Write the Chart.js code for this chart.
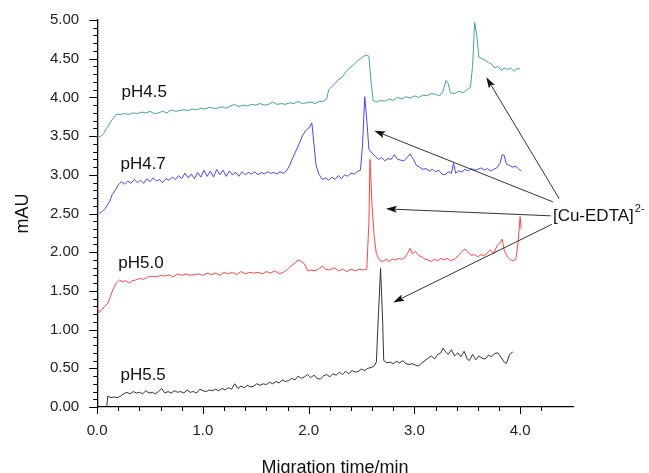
<!DOCTYPE html>
<html>
<head>
<meta charset="utf-8">
<title>Cu-EDTA electropherograms</title>
<script src="https://cdn.jsdelivr.net/npm/chart.js"></script>
<style>
  html, body { margin: 0; padding: 0; background: #fff; }
  #wrap { width: 649px; height: 473px; }
</style>
</head>
<body>
<div id="wrap"><canvas id="chartCanvas" width="649" height="473"></canvas></div>
<script>
// traces: [time (min), signal (mAU)]
const pH45 = [[0.00,3.50],[0.03,3.49],[0.06,3.53],[0.09,3.60],[0.12,3.67],[0.15,3.73],[0.18,3.78],[0.22,3.78],[0.26,3.79],[0.30,3.78],[0.34,3.80],[0.38,3.79],[0.42,3.81],[0.46,3.80],[0.50,3.82],[0.54,3.79],[0.58,3.80],[0.62,3.82],[0.66,3.80],[0.70,3.84],[0.74,3.82],[0.78,3.83],[0.82,3.84],[0.86,3.83],[0.90,3.85],[0.94,3.84],[0.98,3.86],[1.02,3.85],[1.06,3.87],[1.10,3.86],[1.14,3.86],[1.18,3.88],[1.22,3.86],[1.26,3.89],[1.30,3.91],[1.34,3.88],[1.38,3.90],[1.42,3.89],[1.46,3.91],[1.50,3.90],[1.54,3.92],[1.58,3.90],[1.62,3.91],[1.66,3.94],[1.70,3.91],[1.74,3.92],[1.78,3.91],[1.82,3.93],[1.86,3.92],[1.90,3.95],[1.94,3.92],[1.98,3.93],[2.02,3.94],[2.06,3.92],[2.10,3.95],[2.14,3.95],[2.17,3.98],[2.19,4.10],[2.22,4.14],[2.25,4.18],[2.28,4.23],[2.31,4.25],[2.34,4.31],[2.37,4.36],[2.40,4.39],[2.43,4.43],[2.46,4.47],[2.49,4.50],[2.52,4.53],[2.55,4.55],[2.57,4.53],[2.59,4.20],[2.61,3.96],[2.64,3.94],[2.68,3.96],[2.72,3.95],[2.76,3.98],[2.80,3.96],[2.84,4.00],[2.88,3.98],[2.92,4.01],[2.96,3.99],[3.00,4.02],[3.04,4.00],[3.08,4.03],[3.12,4.02],[3.16,4.05],[3.20,4.04],[3.24,4.02],[3.27,4.08],[3.30,4.22],[3.32,4.18],[3.34,4.06],[3.38,4.05],[3.42,4.08],[3.46,4.06],[3.50,4.10],[3.53,4.13],[3.55,4.40],[3.57,4.97],[3.59,4.80],[3.61,4.52],[3.64,4.50],[3.67,4.48],[3.70,4.45],[3.73,4.43],[3.76,4.38],[3.79,4.40],[3.82,4.35],[3.85,4.38],[3.88,4.36],[3.91,4.38],[3.94,4.34],[3.97,4.37],[4.00,4.37]];
const pH47 = [[0.02,2.50],[0.05,2.53],[0.08,2.57],[0.10,2.62],[0.12,2.66],[0.14,2.74],[0.17,2.80],[0.20,2.87],[0.23,2.91],[0.26,2.88],[0.29,2.92],[0.32,2.89],[0.35,2.94],[0.38,2.90],[0.41,2.93],[0.44,2.89],[0.47,2.95],[0.50,2.91],[0.53,2.96],[0.56,2.92],[0.59,2.94],[0.62,2.90],[0.65,2.95],[0.68,2.93],[0.71,2.97],[0.74,2.94],[0.77,2.99],[0.80,2.95],[0.83,3.02],[0.86,2.96],[0.89,3.01],[0.92,2.95],[0.95,3.03],[0.98,2.97],[1.01,3.06],[1.04,2.98],[1.07,3.05],[1.10,2.97],[1.13,3.07],[1.16,3.00],[1.19,3.06],[1.22,2.98],[1.25,3.05],[1.28,3.00],[1.31,3.03],[1.34,2.98],[1.37,3.04],[1.40,3.00],[1.43,3.03],[1.46,3.01],[1.49,3.04],[1.52,3.00],[1.55,3.03],[1.58,3.01],[1.61,3.04],[1.64,3.02],[1.67,3.03],[1.70,3.01],[1.73,3.04],[1.76,3.02],[1.79,3.05],[1.82,3.12],[1.85,3.22],[1.88,3.31],[1.91,3.40],[1.94,3.50],[1.97,3.57],[2.00,3.60],[2.03,3.67],[2.05,3.40],[2.07,3.12],[2.10,3.00],[2.13,2.94],[2.16,2.96],[2.19,2.93],[2.22,2.97],[2.25,2.94],[2.28,2.99],[2.31,2.95],[2.34,3.00],[2.37,2.98],[2.40,3.02],[2.43,3.01],[2.46,3.04],[2.49,3.06],[2.51,3.40],[2.53,4.01],[2.55,3.70],[2.57,3.33],[2.60,3.28],[2.63,3.24],[2.66,3.20],[2.69,3.22],[2.72,3.18],[2.75,3.21],[2.78,3.20],[2.81,3.26],[2.84,3.20],[2.87,3.19],[2.90,3.18],[2.93,3.22],[2.96,3.27],[2.99,3.20],[3.02,3.12],[3.05,3.10],[3.08,3.07],[3.11,3.08],[3.14,3.05],[3.17,3.07],[3.20,3.04],[3.23,3.06],[3.26,3.01],[3.29,3.00],[3.32,3.04],[3.35,3.02],[3.37,3.15],[3.39,3.02],[3.42,3.05],[3.45,3.04],[3.48,3.07],[3.51,3.05],[3.54,3.08],[3.57,3.06],[3.60,3.07],[3.63,3.09],[3.66,3.06],[3.69,3.08],[3.72,3.05],[3.75,3.07],[3.78,3.09],[3.81,3.15],[3.83,3.26],[3.85,3.25],[3.87,3.14],[3.90,3.12],[3.93,3.10],[3.96,3.11],[3.99,3.07],[4.01,3.05]];
const pH50 = [[0.00,1.28],[0.02,1.22],[0.04,1.25],[0.07,1.30],[0.10,1.34],[0.12,1.41],[0.15,1.52],[0.18,1.60],[0.21,1.64],[0.24,1.62],[0.27,1.63],[0.30,1.60],[0.33,1.63],[0.36,1.64],[0.40,1.66],[0.44,1.65],[0.48,1.68],[0.52,1.69],[0.56,1.68],[0.60,1.70],[0.64,1.69],[0.68,1.71],[0.72,1.68],[0.76,1.72],[0.80,1.70],[0.84,1.72],[0.88,1.70],[0.92,1.71],[0.96,1.72],[1.00,1.70],[1.04,1.73],[1.08,1.71],[1.12,1.73],[1.16,1.70],[1.20,1.74],[1.24,1.72],[1.28,1.74],[1.32,1.71],[1.36,1.75],[1.40,1.72],[1.44,1.74],[1.48,1.73],[1.52,1.74],[1.56,1.72],[1.60,1.75],[1.64,1.73],[1.68,1.76],[1.72,1.72],[1.76,1.74],[1.80,1.78],[1.84,1.83],[1.87,1.86],[1.90,1.90],[1.93,1.88],[1.96,1.85],[1.99,1.76],[2.02,1.77],[2.06,1.76],[2.10,1.79],[2.13,1.82],[2.16,1.78],[2.20,1.77],[2.24,1.80],[2.28,1.76],[2.32,1.78],[2.36,1.75],[2.40,1.78],[2.44,1.76],[2.48,1.78],[2.52,1.77],[2.55,1.78],[2.57,2.40],[2.58,3.20],[2.60,2.60],[2.62,2.20],[2.64,1.98],[2.67,1.90],[2.70,1.88],[2.73,1.91],[2.76,1.88],[2.79,1.91],[2.82,1.90],[2.85,1.92],[2.88,1.91],[2.91,1.93],[2.94,2.00],[2.96,2.05],[2.98,1.98],[3.01,2.01],[3.04,1.96],[3.07,1.94],[3.10,1.91],[3.13,1.90],[3.16,1.88],[3.19,1.91],[3.22,1.89],[3.25,1.92],[3.28,1.90],[3.31,1.92],[3.34,1.89],[3.38,1.91],[3.42,1.96],[3.45,2.01],[3.48,2.04],[3.51,1.99],[3.54,1.96],[3.57,1.97],[3.60,1.94],[3.63,1.97],[3.66,1.95],[3.69,1.99],[3.72,2.03],[3.75,1.98],[3.78,2.08],[3.81,2.12],[3.83,2.17],[3.85,2.02],[3.88,1.94],[3.91,1.90],[3.94,1.89],[3.96,1.91],[3.98,2.12],[4.00,2.46],[4.01,2.30]];
const pH55 = [[0.09,0.00],[0.10,0.14],[0.13,0.12],[0.16,0.13],[0.19,0.12],[0.22,0.14],[0.25,0.17],[0.28,0.19],[0.31,0.17],[0.34,0.20],[0.37,0.18],[0.40,0.19],[0.43,0.17],[0.46,0.21],[0.49,0.18],[0.52,0.19],[0.55,0.17],[0.58,0.20],[0.61,0.24],[0.64,0.18],[0.67,0.20],[0.70,0.18],[0.73,0.21],[0.76,0.19],[0.79,0.20],[0.82,0.18],[0.85,0.22],[0.88,0.19],[0.91,0.20],[0.94,0.18],[0.97,0.23],[1.00,0.21],[1.03,0.20],[1.06,0.22],[1.09,0.21],[1.12,0.23],[1.15,0.21],[1.18,0.24],[1.21,0.22],[1.24,0.25],[1.27,0.23],[1.30,0.30],[1.33,0.24],[1.36,0.27],[1.39,0.25],[1.42,0.28],[1.45,0.26],[1.48,0.27],[1.51,0.30],[1.54,0.28],[1.57,0.30],[1.60,0.29],[1.63,0.32],[1.66,0.30],[1.69,0.33],[1.72,0.31],[1.75,0.35],[1.78,0.33],[1.81,0.34],[1.84,0.37],[1.87,0.35],[1.90,0.40],[1.93,0.37],[1.96,0.39],[1.99,0.42],[2.02,0.38],[2.05,0.41],[2.08,0.37],[2.11,0.36],[2.14,0.40],[2.17,0.42],[2.20,0.39],[2.23,0.43],[2.26,0.41],[2.29,0.45],[2.32,0.42],[2.35,0.46],[2.38,0.43],[2.41,0.47],[2.44,0.45],[2.47,0.46],[2.50,0.49],[2.53,0.47],[2.56,0.50],[2.59,0.51],[2.62,0.53],[2.64,0.58],[2.66,1.20],[2.68,1.79],[2.70,1.10],[2.71,0.60],[2.74,0.57],[2.77,0.58],[2.80,0.56],[2.83,0.59],[2.86,0.57],[2.89,0.60],[2.92,0.56],[2.95,0.55],[2.98,0.56],[3.01,0.54],[3.04,0.53],[3.07,0.57],[3.10,0.60],[3.13,0.63],[3.16,0.66],[3.19,0.62],[3.22,0.68],[3.25,0.70],[3.27,0.76],[3.29,0.72],[3.32,0.68],[3.35,0.74],[3.38,0.66],[3.41,0.70],[3.44,0.65],[3.47,0.72],[3.50,0.62],[3.52,0.60],[3.55,0.68],[3.58,0.61],[3.61,0.66],[3.64,0.63],[3.67,0.62],[3.70,0.67],[3.73,0.65],[3.76,0.69],[3.79,0.70],[3.82,0.64],[3.85,0.58],[3.87,0.56],[3.90,0.68],[3.93,0.71]];

const seriesNames = ['pH4.5', 'pH4.7', 'pH5.0', 'pH5.5'];
const seriesColors = ['#45a39b', '#4646ff', '#ff4646', '#333333'];
// where each trace name sits (left edge time, baseline mAU)
const nameSpots = [[0.23, 4.00], [0.22, 3.07], [0.20, 1.79], [0.22, 0.35]];

const xTickLabels = ['0.0', '1.0', '2.0', '3.0', '4.0'];
const yTickLabels = ['0.00', '0.50', '1.00', '1.50', '2.00', '2.50', '3.00', '3.50', '4.00', '4.50', '5.00'];

// peak annotation: label and arrows (tail -> tip, in data units)
const peakLabel = '[Cu-EDTA]';
const peakCharge = '2-';
const peakLabelSpot = [4.31, 2.40];
const arrowTails = [[4.37, 2.69], [4.31, 2.65], [4.29, 2.47], [4.30, 2.36]];
const arrowTips = [[3.68, 4.26], [2.62, 3.57], [2.73, 2.56], [2.80, 1.35]];

const FONT = 'Arial, "Liberation Sans", sans-serif';
const allSeries = [pH45, pH47, pH50, pH55];

const datasets = allSeries.map((s, i) => ({
  label: seriesNames[i],
  data: s.map(p => ({ x: p[0], y: p[1] })),
  borderColor: seriesColors[i],
  borderWidth: 1,
  pointRadius: 0,
  tension: 0,
  fill: false
}));

// tick marks (long for labelled ticks, short for minor) plus the text and arrows
const decorations = {
  id: 'decorations',
  afterDraw(chart) {
    const ctx = chart.ctx;
    const xs = chart.scales.x;
    const ys = chart.scales.y;
    ctx.save();
    ctx.strokeStyle = '#000';
    ctx.lineWidth = 1;

    xs.ticks.forEach(t => {
      const q = t.value / 0.2;
      if (Math.abs(q - Math.round(q)) > 1e-6) return;
      const px = Math.round(xs.getPixelForValue(t.value)) + 0.5;
      const len = t.label ? 7 : 4;
      ctx.beginPath();
      ctx.moveTo(px, ys.bottom);
      ctx.lineTo(px, ys.bottom + len);
      ctx.stroke();
    });
    ys.ticks.forEach(t => {
      const py = Math.round(ys.getPixelForValue(t.value)) + 0.5;
      const len = t.label ? 8 : 4;
      ctx.beginPath();
      ctx.moveTo(xs.left, py);
      ctx.lineTo(xs.left - len, py);
      ctx.stroke();
    });

    // axis titles
    ctx.fillStyle = '#111';
    ctx.font = '18px ' + FONT;
    ctx.textAlign = 'center';
    ctx.textBaseline = 'alphabetic';
    ctx.fillText('Migration time/min', (xs.left + xs.right) / 2, 473);
    ctx.save();
    ctx.translate(28, (ys.top + ys.bottom) / 2);
    ctx.rotate(-Math.PI / 2);
    ctx.fillText('mAU', 0, 0);
    ctx.restore();

    // trace names
    ctx.font = '17px ' + FONT;
    ctx.textAlign = 'left';
    ctx.fillStyle = '#111';
    nameSpots.forEach((p, i) => {
      ctx.fillText(seriesNames[i], xs.getPixelForValue(p[0]), ys.getPixelForValue(p[1]));
    });

    // peak label
    const lx = xs.getPixelForValue(peakLabelSpot[0]);
    const ly = ys.getPixelForValue(peakLabelSpot[1]);
    ctx.fillText(peakLabel, lx, ly);
    const w = ctx.measureText(peakLabel).width;
    ctx.font = '11px ' + FONT;
    ctx.fillText(peakCharge, lx + w + 1, ly - 9);

    // arrows
    ctx.strokeStyle = '#333';
    ctx.fillStyle = '#111';
    arrowTails.forEach((tail, i) => {
      const x0 = xs.getPixelForValue(tail[0]);
      const y0 = ys.getPixelForValue(tail[1]);
      const x1 = xs.getPixelForValue(arrowTips[i][0]);
      const y1 = ys.getPixelForValue(arrowTips[i][1]);
      const ang = Math.atan2(y1 - y0, x1 - x0);
      const head = 11, half = 3.5;
      ctx.beginPath();
      ctx.moveTo(x0, y0);
      ctx.lineTo(x1 - Math.cos(ang) * head * 0.8, y1 - Math.sin(ang) * head * 0.8);
      ctx.stroke();
      ctx.beginPath();
      ctx.moveTo(x1, y1);
      ctx.lineTo(x1 - Math.cos(ang) * head - Math.sin(ang) * half, y1 - Math.sin(ang) * head + Math.cos(ang) * half);
      ctx.lineTo(x1 - Math.cos(ang) * head * 0.8, y1 - Math.sin(ang) * head * 0.8);
      ctx.lineTo(x1 - Math.cos(ang) * head + Math.sin(ang) * half, y1 - Math.sin(ang) * head - Math.cos(ang) * half);
      ctx.closePath();
      ctx.fill();
    });
    ctx.restore();
  }
};

const ctx = document.getElementById('chartCanvas').getContext('2d');
new Chart(ctx, {
  type: 'line',
  data: { datasets: datasets },
  options: {
    responsive: false,
    animation: false,
    layout: { padding: { left: 40, right: 76, top: 20, bottom: 26 } },
    plugins: { legend: { display: false }, tooltip: { enabled: false } },
    scales: {
      x: {
        type: 'linear',
        min: 0,
        max: 4.5,
        border: { display: true, color: '#000', width: 1.3 },
        grid: { display: true, drawOnChartArea: false, drawTicks: true, tickLength: 8, color: 'rgba(0,0,0,0)' },
        ticks: {
          stepSize: 0.2,
          maxTicksLimit: 100,
          autoSkip: false,
          maxRotation: 0,
          padding: 7,
          color: '#222',
          font: { family: FONT, size: 15 },
          callback: (v) => {
            const s = Number(v).toFixed(1);
            return Math.abs(v - Math.round(v)) < 1e-6 && xTickLabels.includes(s) ? s : '';
          }
        }
      },
      y: {
        type: 'linear',
        min: 0,
        max: 5,
        border: { display: true, color: '#000', width: 1.3 },
        grid: { display: true, drawOnChartArea: false, drawTicks: true, tickLength: 8, color: 'rgba(0,0,0,0)' },
        ticks: {
          stepSize: 0.1,
          maxTicksLimit: 100,
          autoSkip: false,
          padding: 10,
          color: '#222',
          font: { family: FONT, size: 15 },
          callback: (v) => {
            const q = v / 0.5;
            const s = Number(v).toFixed(2);
            return Math.abs(q - Math.round(q)) < 1e-6 && yTickLabels.includes(s) ? s : '';
          }
        }
      }
    }
  },
  plugins: [decorations]
});
</script>
</body>
</html>
